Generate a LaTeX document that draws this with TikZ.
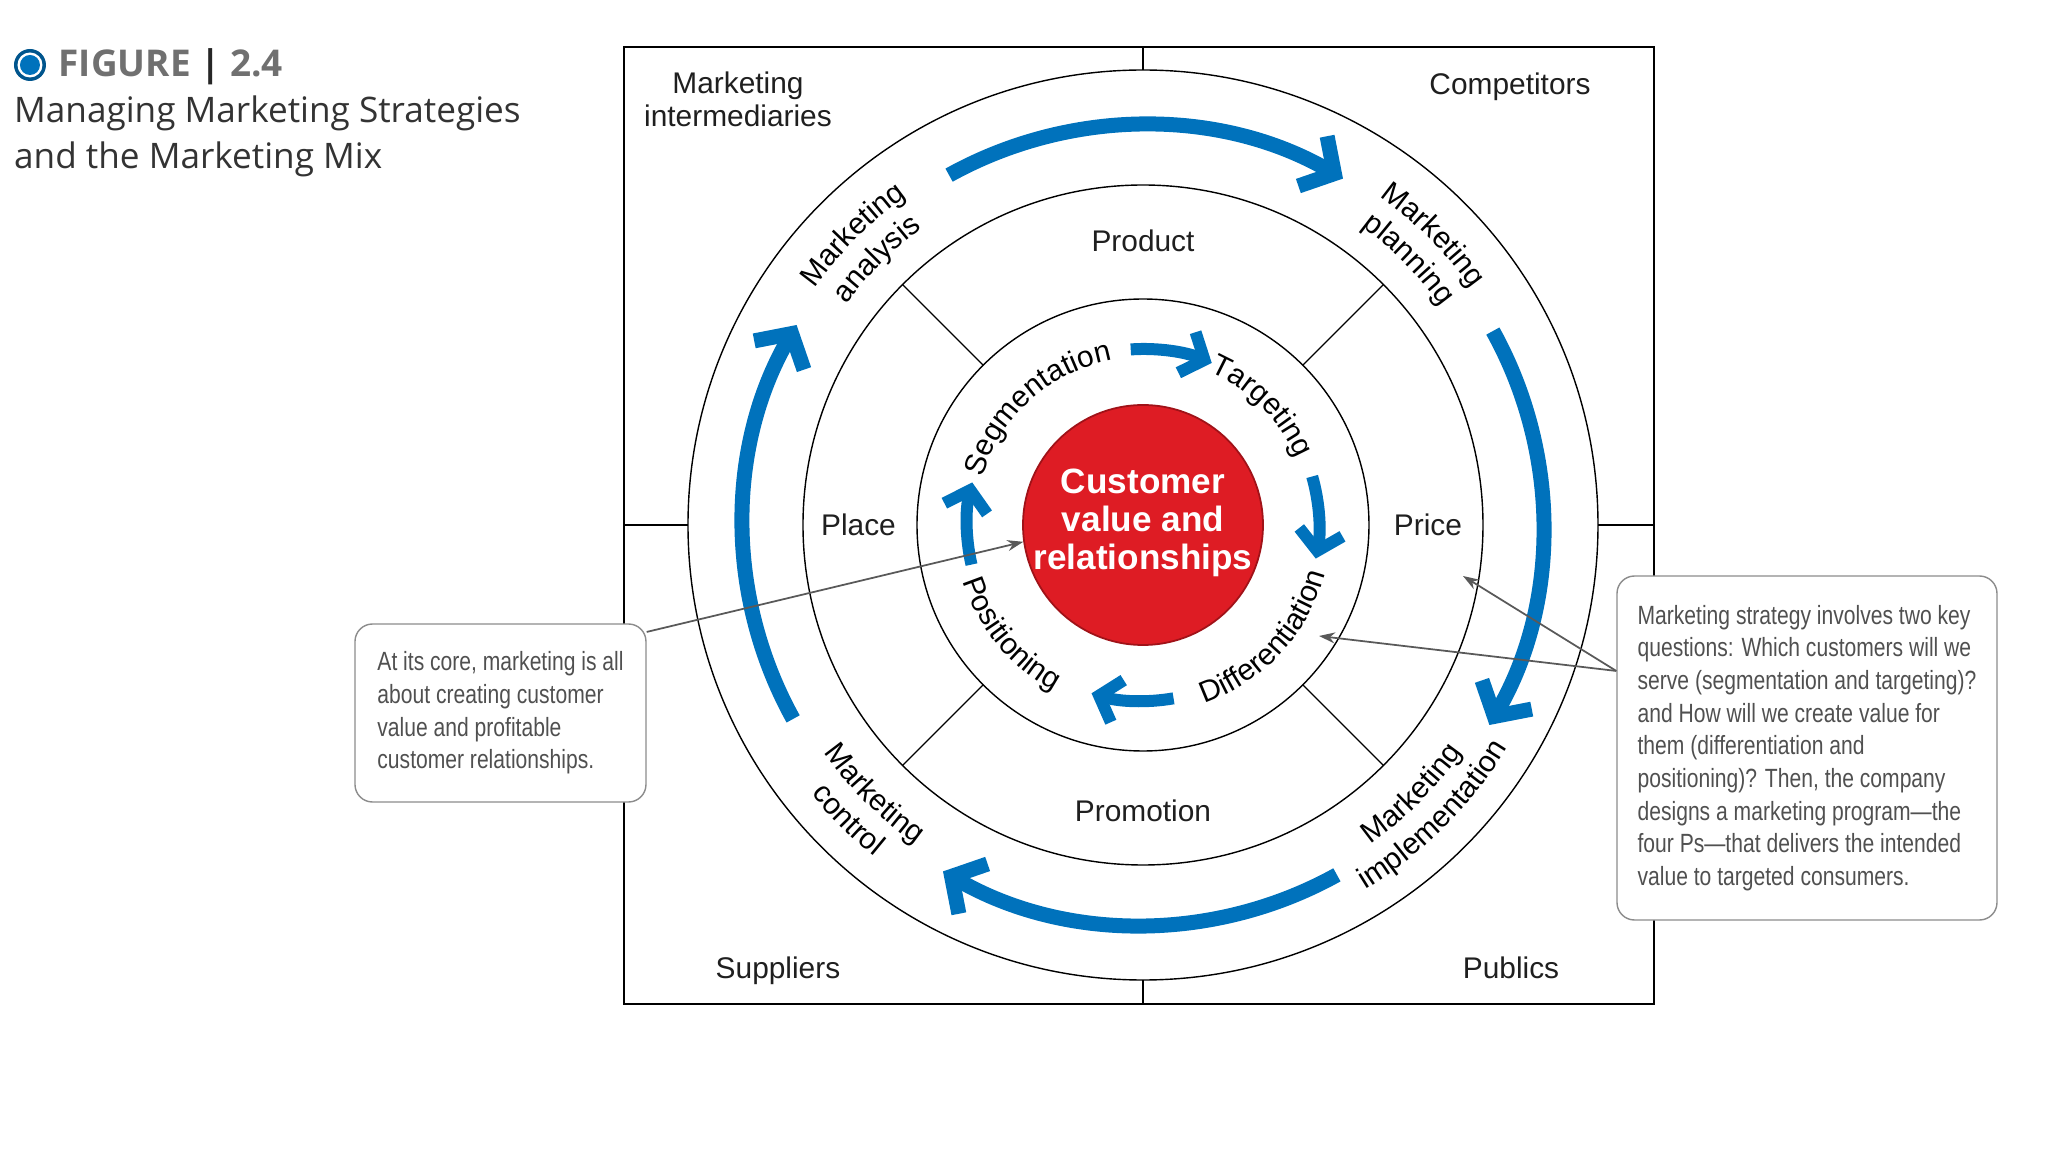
\documentclass[tikz,border=0pt]{standalone}
\usepackage{fontspec}
\setmainfont{Liberation Sans}
\newfontfamily\titlefont{Open Sans}
\newfontfamily\notefont[FakeStretch=0.8]{Liberation Sans}
\usetikzlibrary{arrows.meta, decorations.text}

\definecolor{mixblue}{RGB}{0, 114, 188}
\definecolor{corered}{RGB}{222, 28, 36}
\definecolor{corerim}{RGB}{160, 18, 24}
\definecolor{notegray}{RGB}{80, 80, 80}
\definecolor{titlegray}{RGB}{112, 112, 112}

\begin{document}
\begin{tikzpicture}[
					every node/.style = {
						font = \fontsize{17}{20}\selectfont,
						text = black!88,
					},
					ringline/.style = {draw, line width = 0.8pt},
					outerflow/.style = {
						draw = mixblue,
						line width = 0.3cm,
						-{Straight Barb[length = 0.5cm, width = 1.15cm, sharp]},
					},
					innerflow/.style = {
						draw = mixblue,
						line width = 0.24cm,
						-{Straight Barb[length = 0.38cm, width = 0.88cm, sharp]},
					},
					arcword/.style = {
						decorate,
						decoration = {
							text along path,
							text align = center,
							text = {|\fontsize{17}{20}\selectfont|#1},
						},
					},
					notebox/.style = {
						shape = rectangle,
						draw = black!45,
						fill = white,
						line width = 0.8pt,
						rounded corners = 0.35cm,
						align = left,
						font = \notefont\fontsize{15}{18.6}\selectfont,
						text = notegray,
					},
					leader/.style = {
						draw = black!65,
						line width = 1pt,
						-{Stealth[length = 0.32cm, width = 0.22cm]},
					},
			]
				\useasboundingbox (-22.86, -12.54) rectangle (18.1, 10.5);

				\fill[mixblue!75!black] (-22.26, 9.2) circle (0.32);
				\fill[white] (-22.26, 9.2) circle (0.25);
				\fill[mixblue] (-22.26, 9.2) circle (0.2);
				\draw (-21.81, 8.96) node (figtag) [anchor = base west, font = \titlefont\bfseries\fontsize{21}{24}\selectfont, text = titlegray] {FIGURE \textcolor{black!85}{|} 2.4};
				\draw (-22.7, 8.05) node (titletop) [anchor = base west, font = \titlefont\fontsize{20}{24}\selectfont, text = black!80] {Managing Marketing Strategies};
				\draw (-22.7, 7.12) node (titlebottom) [anchor = base west, font = \titlefont\fontsize{20}{24}\selectfont, text = black!80] {and the Marketing Mix};

				\draw[ringline, line width = 1.1pt] (-10.38, -9.58) rectangle (10.22, 9.56);
				\draw[ringline] (0, 0) circle (9.1);
				\draw[ringline] (0, 0) circle (6.8);
				\draw[ringline] (0, 0) circle (4.52);
				\draw[ringline] (0, 9.1) -- (0, 9.56);
				\draw[ringline] (0, -9.1) -- (0, -9.58);
				\draw[ringline] (-9.1, 0) -- (-10.38, 0);
				\draw[ringline] (9.1, 0) -- (10.22, 0);
				\foreach \a in {45, 135, 225, 315}
					\draw[ringline] (\a:4.52) -- (\a:6.8);

				\draw (-8.1, 8.52) node (intermediaries) [align = center, font = \fontsize{17}{18.8}\selectfont] {Marketing\\intermediaries};
				\draw (7.34, 8.6) node (competitors) [anchor = base] {Competitors};
				\draw (-7.3, -9.06) node (suppliers) [anchor = base] {Suppliers};
				\draw (7.36, -9.06) node (publics) [anchor = base] {Publics};

				\draw (0, 5.68) node (product) {Product};
				\draw (-5.69, 0) node (place) {Place};
				\draw (5.7, 0) node (price) {Price};
				\draw (0, -5.72) node (promotion) {Promotion};

				\foreach \c in {90, 0, -90, 180}
					\draw[outerflow] (\c + 29:8.0) arc[start angle = \c + 29, end angle = \c - 30, radius = 8.0];
				\foreach \s/\e in {94/67, 16/-11, -80/-107, 193/166}
					\draw[innerflow] (\s:3.52) arc[start angle = \s, end angle = \e, radius = 3.52];

				\path[arcword = Marketing] (175:8.1) arc[start angle = 175, end angle = 95, radius = 8.1];
				\path[arcword = analysis] (175:7.4) arc[start angle = 175, end angle = 95, radius = 7.4];
				\path[arcword = Marketing] (85:8.1) arc[start angle = 85, end angle = 5, radius = 8.1];
				\path[arcword = planning] (85:7.4) arc[start angle = 85, end angle = 5, radius = 7.4];
				\path[arcword = Marketing] (185:7.84) arc[start angle = 185, end angle = 265, radius = 7.84];
				\path[arcword = control] (185:8.54) arc[start angle = 185, end angle = 265, radius = 8.54];
				\path[arcword = Marketing] (275:7.84) arc[start angle = 275, end angle = 355, radius = 7.84];
				\path[arcword = implementation] (275:8.54) arc[start angle = 275, end angle = 355, radius = 8.54];

				\path[arcword = Segmentation] (182:3.35) arc[start angle = 182, end angle = 82, radius = 3.35];
				\path[arcword = Targeting] (95:3.35) arc[start angle = 95, end angle = -5, radius = 3.35];
				\path[arcword = Differentiation] (-93:3.77) arc[start angle = -93, end angle = 7, radius = 3.77];
				\path[arcword = Positioning] (169.5:3.77) arc[start angle = 169.5, end angle = 269.5, radius = 3.77];

				\draw (0, 0) node (core) [circle, minimum size = 4.8cm, inner sep = 0pt, fill = corered, draw = corerim, line width = 1pt] {};
				\draw (0, 0.05) node (corelabel) [align = center, text = white, font = \bfseries\fontsize{20}{21.6}\selectfont] {Customer\\value and\\relationships};

				\draw (-12.85, -3.76) node (leftnote) [notebox, minimum width = 5.82cm, minimum height = 3.56cm] {At its core, marketing is all\\about creating customer\\value and profitable\\customer relationships.};
				\draw (13.28, -4.46) node (rightnote) [notebox, minimum width = 7.6cm, minimum height = 6.88cm] {Marketing strategy involves two key\\questions: Which customers will we\\serve (segmentation and targeting)?\\and How will we create value for\\them (differentiation and\\positioning)? Then, the company\\designs a marketing program—the\\four Ps—that delivers the intended\\value to targeted consumers.};

				\coordinate (pricetip) at (6.4, -1.02);
				\coordinate (difftip) at (3.52, -2.22);
				\draw[leader] (leftnote.29) -- (core.188);
				\draw[leader] (rightnote.158) -- (pricetip);
				\draw[leader] (rightnote.158) -- (difftip);
			\end{tikzpicture}
\end{document}
